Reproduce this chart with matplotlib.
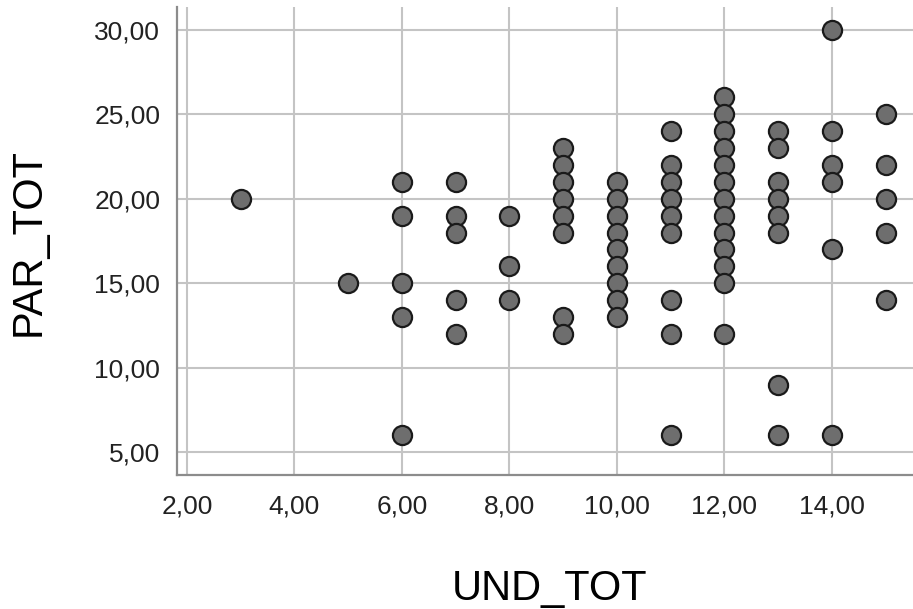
import matplotlib
matplotlib.use("Agg")
from matplotlib import pyplot as plt
from matplotlib import ticker as pltticker

plt.rcParams["font.family"] = ["Liberation Sans", "DejaVu Sans"]

# PAR_TOT values observed for each UND_TOT value
und_values = [3, 5, 6, 7, 8, 9, 10, 11, 12, 13, 14, 15]
par_by_und = {
    3: [20],
    5: [15],
    6: [21, 19, 15, 13, 6],
    7: [21, 19, 18, 14, 12],
    8: [19, 16, 14],
    9: [23, 22, 21, 20, 19, 18, 13, 12],
    10: [21, 20, 19, 18, 17, 16, 15, 14, 13],
    11: [24, 22, 21, 20, 19, 18, 14, 12, 6],
    12: [26, 25, 24, 23, 22, 21, 20, 19, 18, 17, 16, 15, 12],
    13: [24, 23, 21, 20, 19, 18, 9, 6],
    14: [30, 24, 22, 21, 17, 6],
    15: [25, 22, 20, 18, 14],
}
x_ticks = [2, 4, 6, 8, 10, 12, 14]
y_ticks = [5, 10, 15, 20, 25, 30]

und_tot = []
par_tot = []
for u in und_values:
    for p in par_by_und[u]:
        und_tot.append(u)
        par_tot.append(p)

fig = plt.figure(figsize=(9.13, 6.09), dpi=100)
ax = fig.add_axes([177 / 913, 134 / 609, 736 / 913, 468 / 609])

ax.scatter(und_tot, par_tot, s=190, c="#6e6e6e", edgecolors="#1a1a1a",
           linewidths=1.6, zorder=3)

ax.set_xlim(1.814, 15.507)
ax.set_ylim(3.64, 31.36)
ax.set_xticks(x_ticks)
ax.set_yticks(y_ticks)

comma = pltticker.FuncFormatter(lambda v, p: f"{v:.2f}".replace(".", ","))
ax.xaxis.set_major_formatter(comma)
ax.yaxis.set_major_formatter(comma)

ax.grid(True, color="#c4c4c4", linewidth=1.5, zorder=0)
ax.set_axisbelow(True)
ax.tick_params(length=0, labelsize=19, colors="#222222", pad=14)
ax.tick_params(axis="y", pad=12)

for side in ["top", "right"]:
    ax.spines[side].set_visible(False)
for side in ["left", "bottom"]:
    ax.spines[side].set_color("#8c8c8c")
    ax.spines[side].set_linewidth(1.6)

fig.text(550 / 913, 9 / 609, "UND_TOT", fontsize=30, ha="center", va="baseline")
fig.text(29 / 913, 367 / 609, "PAR_TOT", fontsize=30, rotation=90,
         ha="center", va="center")

fig.savefig("out.png", dpi=100)
